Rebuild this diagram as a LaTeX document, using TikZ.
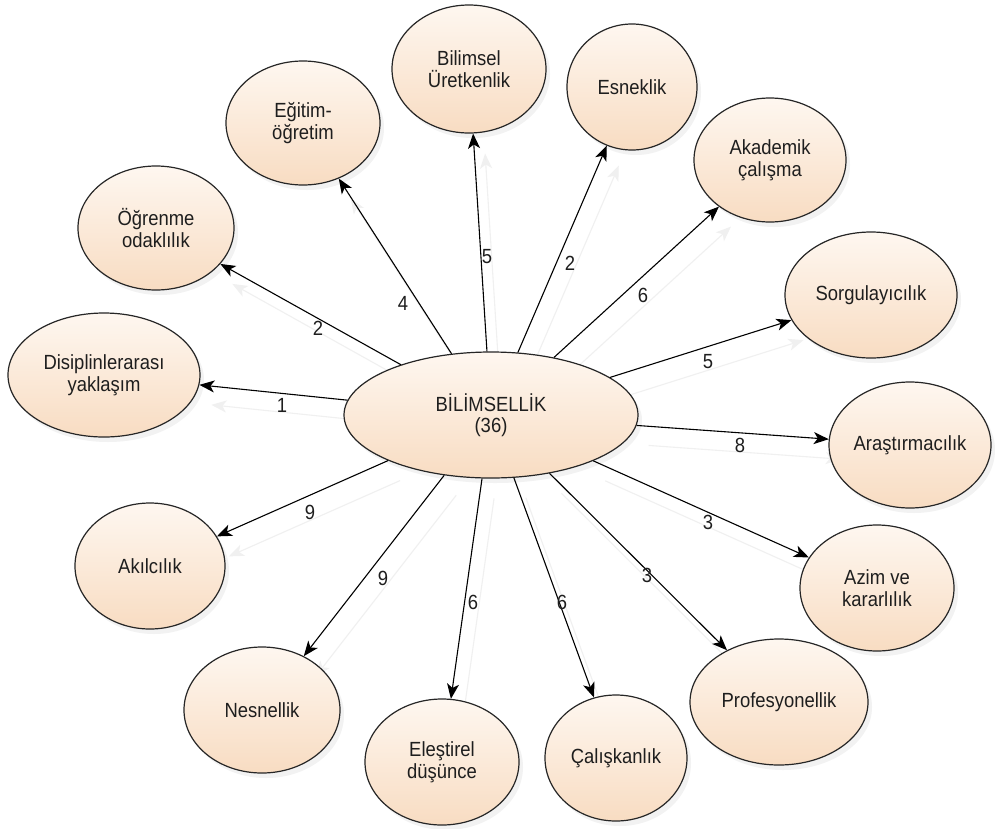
\documentclass[tikz,border=0pt]{standalone}
\usepackage{fontspec}
\setmainfont[FakeStretch=0.9]{Liberation Sans}
\usetikzlibrary{shapes.geometric,arrows.meta,shadows,backgrounds}
\definecolor{ptop}{HTML}{FEF7F0}
\definecolor{pbot}{HTML}{F8DCC2}
\definecolor{ink}{HTML}{1E1E1E}
\tikzset{
  bub/.style={ellipse, draw=black!85, line width=1.2pt, top color=ptop, bottom color=pbot,
    inner sep=0pt, align=center, text=ink, font=\fontsize{20.5}{21.5}\selectfont,
    drop shadow={shadow xshift=4pt, shadow yshift=-5pt, opacity=0.10}},
  link/.style={-{Stealth[length=15pt,width=12pt,inset=4pt]}, line width=1.1pt, black},
  ghost/.style={link, black!6},
  lab/.style={font=\fontsize{20.5}{21.5}\selectfont, text=ink, inner sep=0pt}
}
\begin{document}
\begin{tikzpicture}[x=1pt,y=-1pt]
\useasboundingbox (0,0) rectangle (995,828);
% nodes
\node[bub, minimum width=294pt, minimum height=126pt] (cen) at (491,415) {BİLİMSELLİK\\(36)};
\node[bub, minimum width=154pt, minimum height=128pt] (bil) at (469,69) {Bilimsel\\Üretkenlik};
\node[bub, minimum width=154pt, minimum height=124pt] (egi) at (303,123) {Eğitim-\\öğretim};
\node[bub, minimum width=156pt, minimum height=124pt] (ogr) at (156,228) {Öğrenme\\odaklılık};
\node[bub, minimum width=192pt, minimum height=124pt] (dis) at (104,375) {Disiplinlerarası\\yaklaşım};
\node[bub, minimum width=130pt, minimum height=126pt] (esn) at (632,87) {Esneklik};
\node[bub, minimum width=152pt, minimum height=124pt] (aka) at (770,160) {Akademik\\çalışma};
\node[bub, minimum width=172pt, minimum height=126pt] (sor) at (871,295) {Sorgulayıcılık};
\node[bub, minimum width=162pt, minimum height=126pt] (ara) at (910,445) {Araştırmacılık};
\node[bub, minimum width=154pt, minimum height=126pt] (azi) at (877,588) {Azim ve\\kararlılık};
\node[bub, minimum width=178pt, minimum height=126pt] (pro) at (779,702) {Profesyonellik};
\node[bub, minimum width=142pt, minimum height=126pt] (cal) at (616,758) {Çalışkanlık};
\node[bub, minimum width=154pt, minimum height=126pt] (ele) at (442,762) {Eleştirel\\düşünce};
\node[bub, minimum width=156pt, minimum height=126pt] (nes) at (262,710) {Nesnellik};
\node[bub, minimum width=150pt, minimum height=126pt] (aki) at (150,566) {Akılcılık};
% connectors
\foreach \t in {bil,egi,ogr,dis,esn,aka,sor,ara,azi,pro,cal,ele,nes,aki}
  \draw[link] (cen) -- (\t);
% faint shadow connectors
\begin{pgfonlayer}{background}
\fill[white] (0,0) rectangle (995,828);
\foreach \t in {bil,egi,ogr,dis,esn,aka,sor,ara,azi,pro,cal,ele,nes,aki}
  \draw[ghost, transform canvas={shift={(12pt,-20pt)}}] (cen) -- (\t);
\end{pgfonlayer}
% labels
\node[lab] (l1) at (282,405) {1};
\node[lab] (l2) at (318,328) {2};
\node[lab] (l3) at (403,303) {4};
\node[lab] (l4) at (487,257) {5};
\node[lab] (l5) at (570,263) {2};
\node[lab] (l6) at (643,295) {6};
\node[lab] (l7) at (708,362) {5};
\node[lab] (l8) at (740,445) {8};
\node[lab] (l9) at (708,522) {3};
\node[lab] (l10) at (647,575) {3};
\node[lab] (l11) at (562,602) {6};
\node[lab] (l12) at (473,602) {6};
\node[lab] (l13) at (383,578) {9};
\node[lab] (l14) at (310,512) {9};
\end{tikzpicture}
\end{document}
